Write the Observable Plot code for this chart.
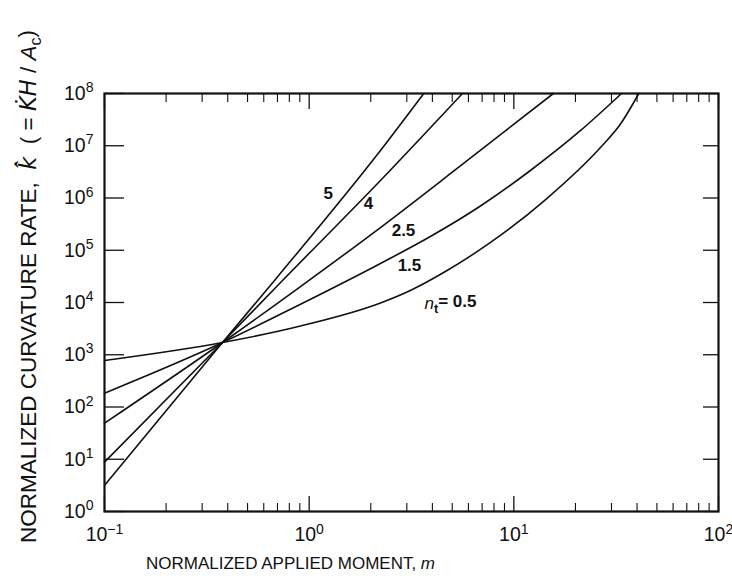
<!DOCTYPE html>
<html><head><meta charset="utf-8">
<script src="https://cdn.jsdelivr.net/npm/d3@7"></script>
<script src="https://cdn.jsdelivr.net/npm/@observablehq/plot@0.6"></script>
<style>
body{margin:0;background:#fff}
svg{font-family:"Liberation Sans",Arial,Helvetica,sans-serif}
</style>
</head><body><div id="chart"></div>
<script>
// ---- data ----
const m_n5 = [0.1, 0.377, 0.698, 2.23, 3.63];
const k_n5 = [3.15, 1715, 3.05e4, 8.1e6, 1e8];
const m_n4 = [0.1, 0.377, 0.749, 2.23, 5.61];
const k_n4 = [8.8, 1715, 2.75e4, 2.16e6, 1e8];
const m_n25 = [0.1, 0.377, 0.907, 2.23, 5.48, 15.6];
const k_n25 = [49, 1715, 2.02e4, 2.72e5, 4.11e6, 1e8];
const m_n15 = [0.1, 0.377, 0.907, 2.23, 3.91, 6.87, 12.05, 21.2, 33.6];
const k_n15 = [184, 1715, 9240, 5.58e4, 1.83e5, 7.03e5, 3.36e6, 1.96e7, 1e8];
const m_n05 = [0.1, 0.377, 0.907, 2.23, 3.12, 4.63, 7.69, 14.3, 26.5, 33.2, 40.8];
const k_n05 = [776, 1715, 3550, 9780, 1.70e4, 3.92e4, 1.41e5, 9.35e5, 9.26e6, 2.61e7, 1e8];

const seriesN = ["5", "4", "2.5", "1.5", "0.5"];
const labelText = ["5", "4", "2.5", "1.5", "n_t = 0.5"];
const labelM = [1.24, 1.95, 2.89, 3.09, 4.9];
const labelK = [1.22e6, 7.85e5, 2.39e5, 5.1e4, 9550];

const xMajorTicks = [0.1, 1, 10, 100];
const xMinorTicks = [0.2,0.3,0.4,0.5,0.6,0.7,0.8,0.9, 2,3,4,5,6,7,8,9, 20,30,40,50,60,70,80,90];
const yMajorTicks = [1, 10, 100, 1e3, 1e4, 1e5, 1e6, 1e7, 1e8];
const xTickLabels = ["10^-1", "10^0", "10^1", "10^2"];
const yTickLabels = ["10^0","10^1","10^2","10^3","10^4","10^5","10^6","10^7","10^8"];

const xLabel = "NORMALIZED APPLIED MOMENT, m";
const yLabel = "NORMALIZED CURVATURE RATE, k (= KH/Ac)";

// ---- build table ----
const mArr = [m_n5, m_n4, m_n25, m_n15, m_n05];
const kArr = [k_n5, k_n4, k_n25, k_n15, k_n05];
const rows = [];
seriesN.forEach((n, i) => mArr[i].forEach((m, j) => rows.push({n, m, k: kArr[i][j]})));
const labels = labelText.map((t, i) => ({t, m: labelM[i], k: labelK[i]}));

const W = 732, H = 586, mL = 104, mR = 14, mT = 93, mB = 75;
const fw = W - mL - mR, fh = H - mT - mB;

const chart = Plot.plot({
  width: W, height: H,
  marginLeft: mL, marginRight: mR, marginTop: mT, marginBottom: mB,
  style: {fontSize: "16px", fontFamily: "Liberation Sans, Arial, sans-serif", color: "#111"},
  x: {type: "log", domain: [0.1, 100]},
  y: {type: "log", domain: [1, 1e8]},
  marks: [
    Plot.axisX(xMajorTicks, {tickSize: 0, tickPadding: 16, fontSize: 19.5,
      tickFormat: d => xTickLabels[xMajorTicks.indexOf(d)], label: null}),
    Plot.axisY(yMajorTicks, {tickSize: 0, tickPadding: 11, fontSize: 19.5,
      tickFormat: d => yTickLabels[yMajorTicks.indexOf(d)], label: null}),
    // inward tick marks
    Plot.tickX(xMajorTicks, {x: d => d, insetTop: fh - 15, stroke: "#111", strokeWidth: 1.3}),
    Plot.tickX(xMinorTicks, {x: d => d, insetTop: fh - 8, stroke: "#111", strokeWidth: 1.1}),
    Plot.tickX(xMajorTicks, {x: d => d, insetBottom: fh - 16, stroke: "#111", strokeWidth: 1.3}),
    Plot.tickX(xMinorTicks, {x: d => d, insetBottom: fh - 9, stroke: "#111", strokeWidth: 1.1}),
    Plot.tickY(yMajorTicks, {y: d => d, insetRight: fw - 20, stroke: "#111", strokeWidth: 1.3}),
    Plot.tickY(yMajorTicks, {y: d => d, insetLeft: fw - 15, stroke: "#111", strokeWidth: 1.3}),
    Plot.line(rows, {x: "m", y: "k", z: "n", curve: "monotone-x", stroke: "#111", strokeWidth: 1.6}),
    Plot.frame({stroke: "#111", strokeWidth: 2.2}),
    Plot.text(labels, {x: "m", y: "k", text: "t", fontSize: 17, fontWeight: "bold", fill: "#111", ariaLabel: "curve-labels"}),
    Plot.text([xLabel], {frameAnchor: "bottom", dx: -121, dy: 52, fontSize: 17, textAnchor: "middle", lineAnchor: "middle", fill: "#111", ariaLabel: "xlabel"}),
    Plot.text([yLabel], {frameAnchor: "left", rotate: -90, dx: -76, dy: -16, fontSize: 22.5, textAnchor: "middle", lineAnchor: "middle", fill: "#111", ariaLabel: "ylabel"})
  ]
});
document.getElementById("chart").appendChild(chart);

// ---- rich-text post-processing ----
const NS = "http://www.w3.org/2000/svg";
function ts(parent, txt, attrs = {}) {
  const t = document.createElementNS(NS, "tspan");
  t.textContent = txt;
  for (const [a, v] of Object.entries(attrs)) t.setAttribute(a, v);
  parent.appendChild(t);
  return t;
}
chart.querySelectorAll("text").forEach(el => {
  const s = el.textContent;
  const mm = /^10\^(-?\d)$/.exec(s);
  if (mm) {
    el.textContent = "";
    ts(el, "10");
    ts(el, mm[1].replace("-", "\u2212"), {dy: "-0.55em", "font-size": "0.72em"});
  } else if (s === "n_t = 0.5") {
    el.textContent = "";
    ts(el, "n", {"font-style": "italic", "font-weight": "normal"});
    ts(el, "t", {dy: "0.35em", "font-size": "0.75em"});
    ts(el, "= 0.5", {dy: "-0.35em"});
  } else if (s === xLabel) {
    el.textContent = "";
    ts(el, "NORMALIZED APPLIED MOMENT, ");
    ts(el, "m", {"font-style": "italic"});
  } else if (s === yLabel) {
    el.textContent = "";
    ts(el, "NORMALIZED CURVATURE RATE,  ");
    ts(el, "k\u0302\u0307", {"font-style": "italic", "font-family": "DejaVu Sans"});
    ts(el, "  ( = ");
    ts(el, "K\u0307H", {"font-style": "italic", "font-family": "DejaVu Sans"});
    ts(el, " / ");
    ts(el, "A", {"font-style": "italic"});
    ts(el, "c", {dy: "0.3em", "font-size": "0.72em"});
    ts(el, ")", {dy: "-0.3em"});
  }
});
</script>
</body></html>
